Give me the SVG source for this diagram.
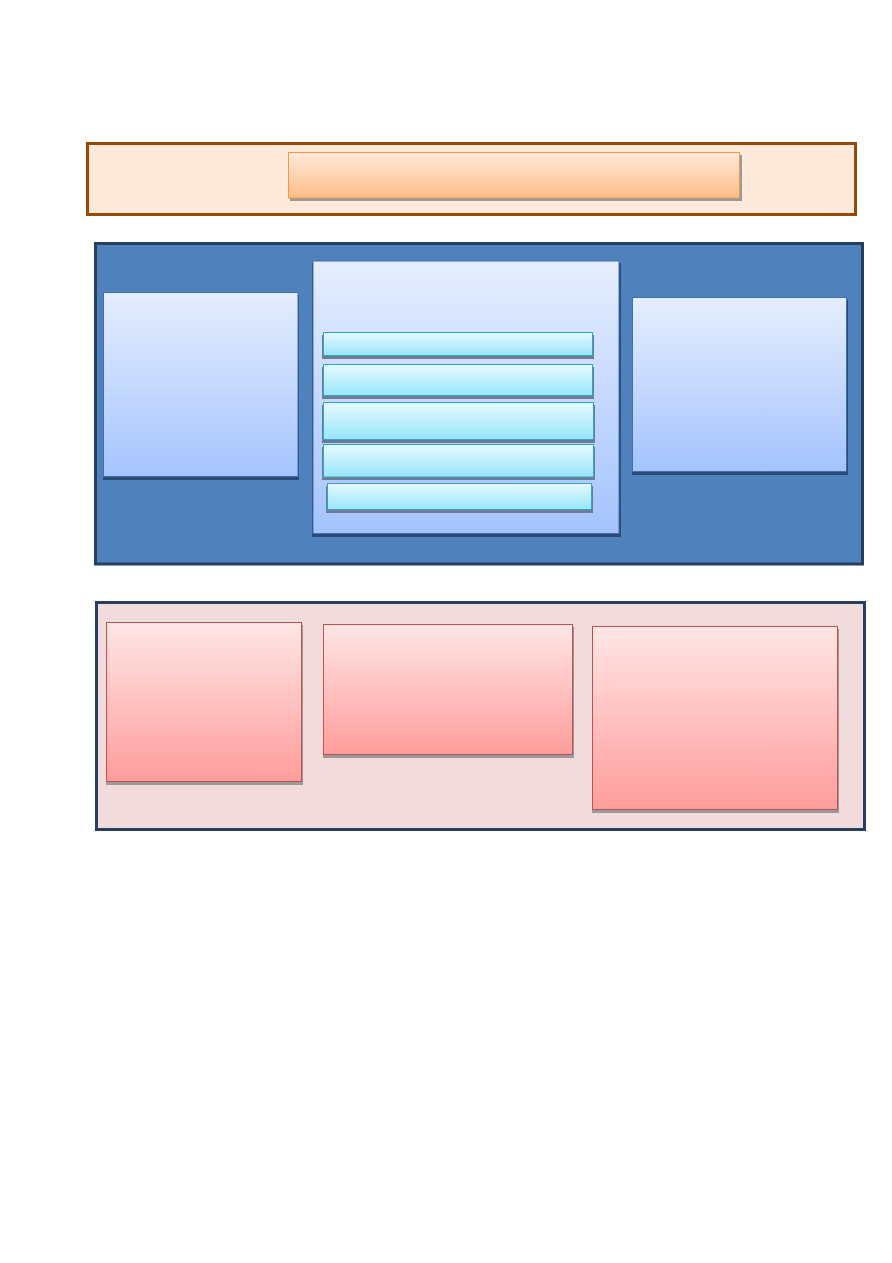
<svg xmlns="http://www.w3.org/2000/svg" width="892" height="1263" viewBox="0 0 892 1263">
<defs>
<linearGradient id="gOr" x1="0" y1="0" x2="0" y2="1"><stop offset="0" stop-color="#ffeadb"/><stop offset="1" stop-color="#ffbd86"/></linearGradient>
<linearGradient id="gBl" x1="0" y1="0" x2="0" y2="1"><stop offset="0" stop-color="#e6eefe"/><stop offset="1" stop-color="#a4c3fe"/></linearGradient>
<linearGradient id="gCy" x1="0" y1="0" x2="0" y2="1"><stop offset="0" stop-color="#e6fbff"/><stop offset="1" stop-color="#98e5fa"/></linearGradient>
<linearGradient id="gPk" x1="0" y1="0" x2="0" y2="1"><stop offset="0" stop-color="#ffe6e6"/><stop offset="1" stop-color="#ff9d9b"/></linearGradient>
</defs>
<style>
.oframe{fill:#fde9d9;stroke:#984807;stroke-width:3}
.bframe{fill:#4f81bd;stroke:#243f60;stroke-width:3}
.pframe{fill:#f2dcdb;stroke:#243f60;stroke-width:3}
.obox{fill:url(#gOr);stroke:#f79646;stroke-width:1}
.bbox{fill:url(#gBl);stroke:#3f70b0;stroke-width:1}
.cbox{fill:url(#gCy);stroke:#31a5c4;stroke-width:1}
.pbox{fill:url(#gPk);stroke:#c0504d;stroke-width:1}
.shg{fill:#9a9a9a}
.shb{fill:#2c4b74}
.shc{fill:#6f7b94}
</style>
<rect width="892" height="1263" fill="#ffffff"/>
<g id="top-frame">
<rect class="oframe" x="87.5" y="143.5" width="768" height="71"/>
</g>
<g id="top-box">
<rect class="shg" x="290" y="155" width="452" height="46"/>
<rect class="obox" x="288.5" y="152.5" width="451" height="45.5"/>
</g>
<g id="blue-frame">
<rect class="bframe" x="95.5" y="243.5" width="767" height="320.5"/>
</g>
<g id="blue-left">
<rect class="shb" x="103" y="295" width="196" height="185"/>
<rect class="bbox" x="103.5" y="292.5" width="194.5" height="184"/>
</g>
<g id="blue-center">
<rect class="shb" x="312" y="263" width="309" height="274"/>
<rect class="bbox" x="313" y="261" width="306" height="272.5"/>
</g>
<g id="sub1">
<rect class="shc" x="322" y="335" width="272" height="24"/>
<rect class="cbox" x="323.5" y="332.5" width="269" height="23"/>
</g>
<g id="sub2">
<rect class="shc" x="322" y="367" width="272" height="32"/>
<rect class="cbox" x="323.5" y="364.5" width="269" height="31"/>
</g>
<g id="sub3">
<rect class="shc" x="322" y="405" width="273" height="38"/>
<rect class="cbox" x="323.5" y="402.5" width="270" height="37"/>
</g>
<g id="sub4">
<rect class="shc" x="322" y="447" width="273" height="33"/>
<rect class="cbox" x="323.5" y="444.5" width="270" height="32.5"/>
</g>
<g id="sub5">
<rect class="shc" x="326" y="486" width="267" height="27"/>
<rect class="cbox" x="327.5" y="483.5" width="264" height="26"/>
</g>
<g id="blue-right">
<rect class="shb" x="632" y="300" width="216" height="175"/>
<rect class="bbox" x="632.5" y="297.5" width="214" height="174"/>
</g>
<g id="pink-frame">
<rect class="pframe" x="96.5" y="602.5" width="768" height="227"/>
</g>
<g id="pink-left">
<rect class="shg" x="106" y="625" width="197" height="160"/>
<rect class="pbox" x="106.5" y="622.5" width="195" height="159"/>
</g>
<g id="pink-center">
<rect class="shg" x="323" y="627" width="251" height="131"/>
<rect class="pbox" x="323.5" y="624.5" width="249" height="130"/>
</g>
<g id="pink-right">
<rect class="shg" x="592" y="629" width="247" height="184"/>
<rect class="pbox" x="592.5" y="626.5" width="245" height="183"/>
</g>
<g id="connectors"></g>
</svg>
